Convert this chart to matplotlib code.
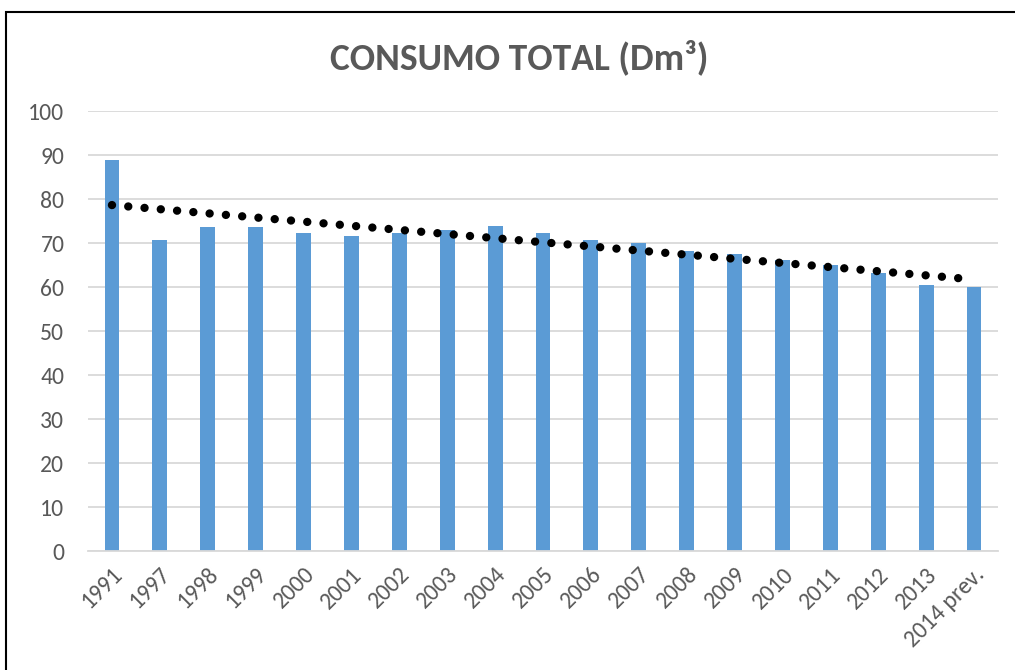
import matplotlib
matplotlib.use("Agg")
import matplotlib.pyplot as plt
import numpy as np
from matplotlib.patches import Rectangle
from matplotlib import font_manager

categories = ["1991", "1997", "1998", "1999", "2000", "2001", "2002", "2003", "2004",
              "2005", "2006", "2007", "2008", "2009", "2010", "2011", "2012", "2013",
              "2014 prev."]
values = [88.9, 70.7, 73.6, 73.6, 72.3, 71.6, 72.3, 73.0, 73.9,
          72.3, 70.6, 69.9, 68.1, 67.5, 66.2, 64.9, 63.2, 60.5, 60.0]
y_ticks = [0, 10, 20, 30, 40, 50, 60, 70, 80, 90, 100]
title = "CONSUMO TOTAL (Dm³)"

avail = {f.name for f in font_manager.fontManager.ttflist}
fams = [f for f in ["Carlito", "Liberation Sans Narrow", "Open Sans", "DejaVu Sans"] if f in avail]
plt.rcParams['font.family'] = fams

W, H = 1015, 670
fig = plt.figure(figsize=(W / 100, H / 100), dpi=100)
ax = fig.add_axes([88 / W, 1 - 551 / H, (998 - 88) / W, (551 - 111) / H])

x = np.arange(len(categories))
ax.bar(x, values, width=0.31, color="#5b9bd5", zorder=2)

# linear trendline (as in Excel)
coef = np.polyfit(x, values, 1)
trend = np.polyval(coef, x)
ax.plot(x, trend, color="black", linewidth=6, linestyle=(0, (0.01, 1.95)),
        dash_capstyle="round", zorder=3)

ax.set_xlim(-0.5, len(categories) - 0.5)
ax.set_ylim(0, 100)
ax.set_yticks(y_ticks)
ax.yaxis.grid(True, color="#d9d9d9", linewidth=1.3, zorder=0)
ax.set_axisbelow(True)
for s in ["top", "right", "left"]:
    ax.spines[s].set_visible(False)
ax.spines["bottom"].set_color("#d9d9d9")
ax.spines["bottom"].set_linewidth(1.3)
ax.tick_params(axis="both", length=0, colors="#595959", labelsize=17)
ax.tick_params(axis="y", pad=17)
ax.set_xticks(x)
ax.set_xticklabels(categories, rotation=45, ha="right", va="top",
                   rotation_mode="anchor")
ax.tick_params(axis="x", pad=9)

fig.text(519 / W, 1 - 57 / H, title, ha="center", va="center", fontsize=27,
         fontweight="bold", color="#595959")

fig.patches.append(Rectangle((6 / W, -0.1), 1.2, 1 - 12 / H + 0.1,
                             transform=fig.transFigure, fill=False,
                             edgecolor="black", linewidth=1.5))

fig.savefig("out.png", dpi=100, facecolor="white")
